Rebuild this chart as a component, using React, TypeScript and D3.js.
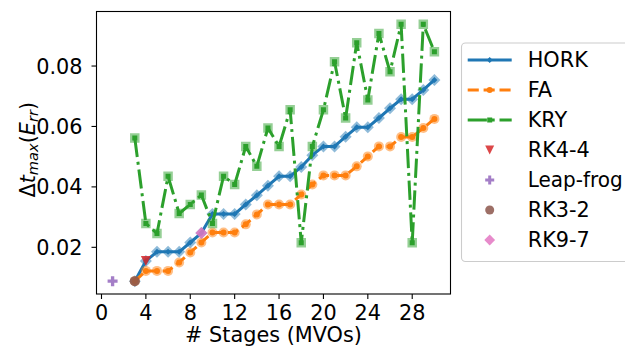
import React from "react";
import * as d3 from "d3";

// Number of stages (MVOs) shared by the three families
const stages = [3, 4, 5, 6, 7, 8, 9, 10, 11, 12, 13, 14, 15, 16, 17, 18, 19, 20, 21, 22, 23, 24, 25, 26, 27, 28, 29, 30];

// Maximum stable step for each family
const hork = [0.0088, 0.0155, 0.0185, 0.0185, 0.0185, 0.0216, 0.0247, 0.031, 0.031, 0.031, 0.0342, 0.0372, 0.0404, 0.0435, 0.0435, 0.0466, 0.0505, 0.0534, 0.0534, 0.0566, 0.0597, 0.0597, 0.0628, 0.066, 0.069, 0.069, 0.0721, 0.0754];
const fa = [0.0088, 0.0122, 0.0122, 0.0122, 0.015, 0.0183, 0.0216, 0.0249, 0.0249, 0.0249, 0.0276, 0.0309, 0.0342, 0.0342, 0.0342, 0.0375, 0.0408, 0.0438, 0.0438, 0.0438, 0.0468, 0.0501, 0.0534, 0.0534, 0.0565, 0.0565, 0.0595, 0.0625];
const kry = [0.0562, 0.0279, 0.0246, 0.0435, 0.0312, 0.0342, 0.0373, 0.0279, 0.0435, 0.0408, 0.0534, 0.0468, 0.0595, 0.0534, 0.0655, 0.0215, 0.0534, 0.0655, 0.0814, 0.0628, 0.0877, 0.0688, 0.0908, 0.0781, 0.0938, 0.0215, 0.0938, 0.0847];

// Individual reference schemes: [stages, dt]
const rk44 = [4, 0.0155];
const leapFrog = [1, 0.0088];
const rk32 = [3, 0.0088];
const rk97 = [9, 0.0247];

const xTicks = [0, 4, 8, 12, 16, 20, 24, 28];
const yTicks = [0.02, 0.04, 0.06, 0.08];

const W = 625;
const H = 347;
const plot = { left: 96.5, top: 11.5, right: 450.5, bottom: 294 };
const FONT = "'DejaVu Sans', sans-serif";

const C = {
  blue: "#1f77b4",
  orange: "#ff7f0e",
  green: "#2ca02c",
  red: "#d62728",
  purple: "#9467bd",
  brown: "#8c564b",
  pink: "#e377c2",
};

type Shape = "diamond" | "circle" | "square" | "tri_down" | "plus";

function markerPath(shape: Shape, s: number): string {
  const h = s / 2;
  switch (shape) {
    case "diamond":
      return `M0,${-h}L${h},0L0,${h}L${-h},0Z`;
    case "square":
      return `M${-h},${-h}H${h}V${h}H${-h}Z`;
    case "tri_down":
      return `M${-h},${-h}L${h},${-h}L0,${h}Z`;
    case "plus": {
      const a = s / 6;
      return `M${-a},${-h}H${a}V${-a}H${h}V${a}H${a}V${h}H${-a}V${a}H${-h}V${-a}H${-a}Z`;
    }
    case "circle":
    default:
      return `M${h},0A${h},${h} 0 1,1 ${-h},0A${h},${h} 0 1,1 ${h},0Z`;
  }
}

function Marker({ x, y, shape, size, fill, opacity = 1 }: { x: number; y: number; shape: Shape; size: number; fill: string; opacity?: number }) {
  return <path d={markerPath(shape, size)} transform={`translate(${x},${y})`} fill={fill} fillOpacity={opacity} />;
}

const LW = 3;
const dashed = `${3.7 * LW},${1.6 * LW}`;
const dashDot = `${6.4 * LW},${1.6 * LW},${1 * LW},${1.6 * LW}`;

const families = [
  { name: "HORK", values: hork, color: C.blue, shape: "diamond" as Shape, big: 12, small: 6, dash: undefined as string | undefined },
  { name: "FA", values: fa, color: C.orange, shape: "circle" as Shape, big: 10, small: 6, dash: dashed },
  { name: "KRY", values: kry, color: C.green, shape: "square" as Shape, big: 9.5, small: 5, dash: dashDot },
];

const singles = [
  { name: "RK4-4", point: rk44, color: C.red, shape: "tri_down" as Shape, size: 10 },
  { name: "Leap-frog", point: leapFrog, color: C.purple, shape: "plus" as Shape, size: 10 },
  { name: "RK3-2", point: rk32, color: C.brown, shape: "circle" as Shape, size: 10 },
  { name: "RK9-7", point: rk97, color: C.pink, shape: "diamond" as Shape, size: 12 },
];

export default function App() {
  const allX = [...stages, ...singles.map((s) => s.point[0])];
  const allY = [...hork, ...fa, ...kry, ...singles.map((s) => s.point[1])];
  const [x0, x1] = d3.extent(allX) as [number, number];
  const [y0, y1] = d3.extent(allY) as [number, number];
  const xm = (x1 - x0) * 0.05;
  const ym = (y1 - y0) * 0.05;

  const x = d3.scaleLinear().domain([x0 - xm, x1 + xm]).range([plot.left, plot.right]);
  const y = d3.scaleLinear().domain([y0 - ym, y1 + ym]).range([plot.bottom, plot.top]);

  const line = d3
    .line<number>()
    .x((_, i) => x(stages[i]))
    .y((d) => y(d));

  // Legend layout
  const legX = 461.5;
  const legY = 43;
  const rowH = 30;
  const handleX0 = 467.7;
  const handleX1 = 511.7;
  const handleMid = (handleX0 + handleX1) / 2;
  const textX = 527.7;
  const rows = [...families.map((f) => f.name), ...singles.map((s) => s.name)];

  return (
    <svg width={W} height={H} style={{ position: "absolute", left: 0, top: 0, background: "#fff" }} fontFamily={FONT}>
      <rect x={0} y={0} width={W} height={H} fill="#fff" />
      <defs>
        <clipPath id="plot-clip">
          <rect x={plot.left} y={plot.top} width={plot.right - plot.left} height={plot.bottom - plot.top} />
        </clipPath>
      </defs>

      <g clipPath="url(#plot-clip)">
        {families.map((f) => (
          <g key={f.name}>
            {f.values.map((v, i) => (
              <Marker key={i} x={x(stages[i])} y={y(v)} shape={f.shape} size={f.big} fill={f.color} opacity={0.5} />
            ))}
            <path d={line(f.values) ?? ""} fill="none" stroke={f.color} strokeWidth={LW} strokeDasharray={f.dash} strokeLinejoin="round" />
            {f.values.map((v, i) => (
              <Marker key={`s${i}`} x={x(stages[i])} y={y(v)} shape={f.shape} size={f.small} fill={f.color} />
            ))}
          </g>
        ))}
        {singles.map((s) => (
          <Marker key={s.name} x={x(s.point[0])} y={y(s.point[1])} shape={s.shape} size={s.size} fill={s.color} opacity={0.85} />
        ))}
      </g>

      {/* axes frame */}
      <rect x={plot.left} y={plot.top} width={plot.right - plot.left} height={plot.bottom - plot.top} fill="none" stroke="#000" strokeWidth={1.1} />

      {/* x ticks */}
      {xTicks.map((t) => (
        <g key={t} transform={`translate(${x(t)},${plot.bottom})`}>
          <line y1={0} y2={5} stroke="#000" strokeWidth={1.1} />
          <text y={25.5} textAnchor="middle" fontSize={20.8} fill="#000">
            {t}
          </text>
        </g>
      ))}
      {/* y ticks */}
      {yTicks.map((t) => (
        <g key={t} transform={`translate(${plot.left},${y(t)})`}>
          <line x1={0} x2={-5} stroke="#000" strokeWidth={1.1} />
          <text x={-14} dy="0.36em" textAnchor="end" fontSize={20.8} fill="#000">
            {d3.format(".2f")(t)}
          </text>
        </g>
      ))}

      {/* axis labels */}
      <text x={(plot.left + plot.right) / 2} y={342} textAnchor="middle" fontSize={20.8} fill="#000">
        # Stages (MVOs)
      </text>
      <text transform={`translate(34.5,${(plot.top + plot.bottom) / 2 - 3}) rotate(-90)`} textAnchor="middle" fontSize={20.8} fill="#000">
        <tspan>Δ</tspan>
        <tspan fontStyle="italic">t</tspan>
        <tspan fontStyle="italic" fontSize={14.6} dy={3.5}>max</tspan>
        <tspan dy={-3.5}>(</tspan>
        <tspan fontStyle="italic">E</tspan>
        <tspan fontStyle="italic" fontSize={14.6} dy={3.5}>rr</tspan>
        <tspan dy={-3.5}>)</tspan>
      </text>

      {/* legend */}
      <rect x={legX} y={legY} width={178} height={218.5} rx={4} ry={4} fill="#fff" fillOpacity={0.8} stroke="#cccccc" strokeWidth={1.1} />
      {families.map((f, i) => {
        const cy = legY + 17 + i * rowH;
        return (
          <g key={f.name}>
            <line x1={handleX0} x2={handleX1} y1={cy} y2={cy} stroke={f.color} strokeWidth={LW} strokeDasharray={f.dash} />
            <Marker x={handleMid} y={cy} shape={f.shape} size={f.small} fill={f.color} />
          </g>
        );
      })}
      {singles.map((s, i) => {
        const cy = legY + 17 + (i + 3) * rowH;
        return <Marker key={s.name} x={handleMid} y={cy} shape={s.shape} size={s.size * 0.9} fill={s.color} opacity={0.85} />;
      })}
      {rows.map((name, i) => (
        <text
          key={name}
          x={textX}
          y={legY + 17 + i * rowH}
          dy="0.36em"
          fontSize={20.8}
          fill="#000"
          textLength={name === "Leap-frog" ? 95 : undefined}
          lengthAdjust="spacingAndGlyphs"
        >
          {name}
        </text>
      ))}
    </svg>
  );
}
